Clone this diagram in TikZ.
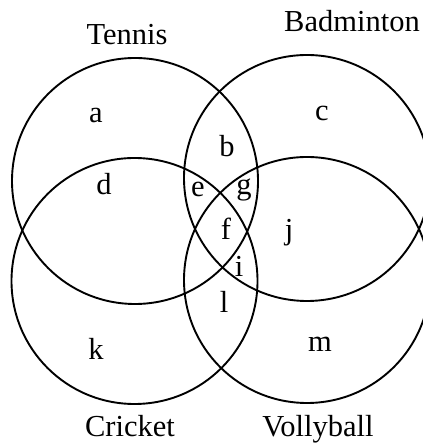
\documentclass[tikz,border=0pt]{standalone}
\usepackage{fontspec}
\setmainfont{Liberation Serif}
\usetikzlibrary{positioning}
\tikzset{
  every picture/.style={x=1pt, y=1pt},
  set/.style={draw=black, line width=1.9pt, circle, minimum size=246pt, inner sep=0pt},
  region/.style={font=\fontsize{30.5}{36}\selectfont, anchor=base, inner sep=0pt},
  title/.style={region},
}

\begin{document}
\begin{tikzpicture}
  \useasboundingbox (0,0) rectangle (422,443);
  % the four sets
  \node[set] (tennis)    at (135,262) {};
  \node[set] (badminton) at (307,265) {};
  \node[set] (cricket)   at (134.5,162) {};
  \node[set] (volley)    at (307,163) {};
  % set names
  \node[title] (tname) at (127,398) {Tennis};
  \node[title] (bname) at (352,411) {Badminton};
  \node[title] (cname) at (130,6)   {Cricket};
  \node[title] (vname) at (318,6)   {Vollyball};
  % regions
  \node[region] (ra) at (96,320)  {a};
  \node[region] (rb) at (227,286) {b};
  \node[region] (rc) at (322,322) {c};
  \node[region] (rd) at (104,248) {d};
  \node[region] (re) at (198,246) {e};
  \node[region] (rg) at (244,248) {g};
  \node[region] (rf) at (226,203) {f};
  \node[region] (rj) at (289,203) {j};
  \node[region] (ri) at (239,166) {i};
  \node[region] (rl) at (224,130) {l};
  \node[region] (rk) at (96,83)   {k};
  \node[region] (rm) at (320,91)  {m};
\end{tikzpicture}
\end{document}
